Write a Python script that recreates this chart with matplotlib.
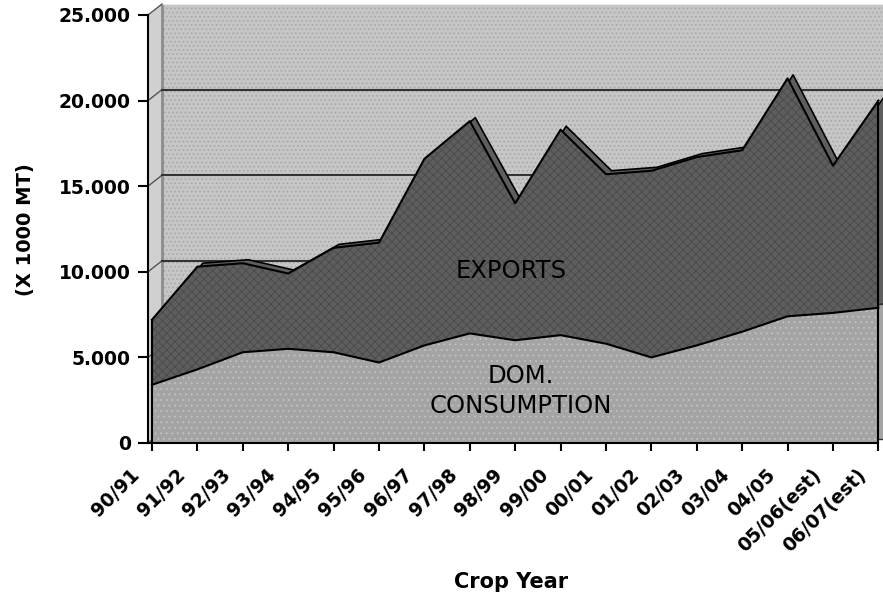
import numpy as np
import matplotlib
matplotlib.use("Agg")
import matplotlib.pyplot as plt
from matplotlib.transforms import ScaledTranslation

# campañas (etiquetas del eje x)
campanias = ["90/91", "91/92", "92/93", "93/94", "94/95", "95/96", "96/97",
             "97/98", "98/99", "99/00", "00/01", "01/02", "02/03", "03/04",
             "04/05", "05/06(est)", "06/07(est)"]
# consumo domestico y exportaciones (x 1000 MT)
consumo = [3400, 4300, 5300, 5500, 5300, 4700, 5700, 6400, 6000, 6300,
           5800, 5000, 5700, 6500, 7400, 7600, 7900]
exportaciones = [3800, 6000, 5200, 4400, 6100, 7000, 10900, 12400, 8000,
                 12000, 9900, 10900, 11000, 10600, 13900, 8600, 12100]
yticks = [0, 5000, 10000, 15000, 20000, 25000]

x = np.arange(len(campanias))
dom = np.array(consumo)
total = dom + np.array(exportaciones)

c_pared = "#c6c6c6"
c_lateral = "#d0d0d0"
c_expo = "#5e5e5e"
c_dom = "#a4a4a4"

plt.rcParams["hatch.linewidth"] = 0.7

fig = plt.figure(figsize=(8.83, 6.0), dpi=100)
ax = fig.add_axes([148/883, 157/600, 735/883, 439/600])
x0, x1 = -4/45.4, (883-152)/45.4
ytop = (443-4)/85.6*5000
ax.set_xlim(x0, x1)
ax.set_ylim(0, ytop)
ax.set_facecolor("white")

# profundidad de la pared del fondo (efecto 3D)
px = 14/45.4
py = 11/85.6*5000
xw = x0 + px
ax.fill_between([xw, x1], py, ytop, color=c_pared, zorder=0, lw=0)
ax.fill_between([xw, x1], py, ytop, facecolor="none", edgecolor="#a8a8a8",
                hatch="....", lw=0, zorder=0.1)
ax.fill([x0, x0, xw, xw], [0, 25000, 25000 + py, py], color=c_lateral,
        zorder=0, lw=0)
ax.plot([xw, xw], [py, ytop], color="#8c8c8c", lw=2, zorder=0.5)
ax.plot([xw, x1], [ytop - 20, ytop - 20], color="#e8e8e8", lw=1.5, zorder=0.5)
for v in yticks:
    ax.plot([x0, xw], [v, v + py], color="#555555", lw=1, zorder=0.6,
            clip_on=False)
    if 0 < v < 25000:
        ax.plot([xw, x1], [v + py, v + py], color="#333333", lw=1.5, zorder=0.6)

# cara superior / lateral de las areas (desplazadas)
sx = 5/45.4
sy = 4/85.6*5000
ax.fill_between(x + sx, dom + sy, total + sy, facecolor=c_expo,
                edgecolor="black", lw=1.2, zorder=1)
ax.fill_between(x + sx, sy, dom + sy, facecolor=c_dom, edgecolor="#333333",
                lw=1.0, zorder=1)

# caras frontales
ax.fill_between(x, 0, dom, facecolor=c_dom, lw=0, zorder=2)
ax.fill_between(x, 0, dom, facecolor="none", edgecolor="#c0c0c0",
                hatch="...", lw=0, zorder=2.1)
ax.fill_between(x, dom, total, facecolor=c_expo, lw=0, zorder=2)
ax.fill_between(x, dom, total, facecolor="none", edgecolor="#4c4c4c",
                hatch="xxxx", lw=0, zorder=2.1)
ax.plot(x, dom, color="black", lw=1.5, zorder=3)
ax.plot(x, total, color="black", lw=1.5, zorder=3)
ax.plot([x[0], x[0]], [0, total[0]], color="black", lw=1.5, zorder=3)
ax.plot([x[-1], x[-1]], [0, total[-1]], color="black", lw=1.5, zorder=3)

ax.text(7.91, 10050, "EXPORTS", ha="center", va="center", fontsize=17.5,
        zorder=4)
ax.text(8.13, 3040, "DOM.\nCONSUMPTION", ha="center", va="center",
        fontsize=17.5, linespacing=1.3, zorder=4)

# ejes
for s in ["top", "right"]:
    ax.spines[s].set_visible(False)
ax.spines["left"].set_bounds(0, 25000)
ax.spines["bottom"].set_bounds(x0, x[-1])
ax.spines["left"].set_linewidth(1.5)
ax.spines["bottom"].set_linewidth(1.5)
ax.spines["left"].set_zorder(5)
ax.spines["bottom"].set_zorder(5)

ax.set_yticks(yticks)
ax.set_yticklabels([f"{v:,}".replace(",", ".") for v in yticks],
                   fontsize=13.5, fontweight="bold")
ax.tick_params(axis="y", length=7, width=1.5, pad=5.5)
ax.set_xticks(x)
ax.set_xticklabels(campanias, rotation=45, ha="right", va="top",
                   rotation_mode="anchor", fontsize=13.5, fontweight="bold")
ax.tick_params(axis="x", length=6, width=1.5, pad=10)
desp = ScaledTranslation(-0.22, 0, fig.dpi_scale_trans)
for lab in ax.get_xticklabels():
    lab.set_transform(lab.get_transform() + desp)

ax.set_ylabel("(X 1000 MT)", fontsize=14, fontweight="bold")
ax.yaxis.set_label_coords(-0.154, 0.485)
ax.set_xlabel("Crop Year", fontsize=15, fontweight="bold")
ax.xaxis.set_label_coords(0.494, -0.294)

fig.savefig("out.png", dpi=100)
